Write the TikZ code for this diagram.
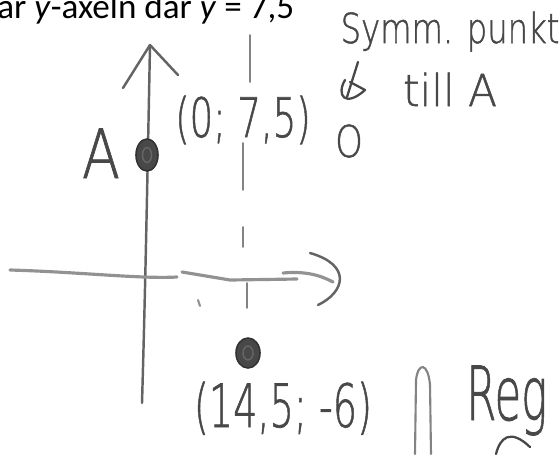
\documentclass[tikz,border=0pt]{standalone}
\usepackage{fontspec}
\usepackage{graphicx}
\setmainfont{Liberation Sans}
\newfontfamily\printfont{Carlito}
\newfontfamily\handfont{DejaVu Sans ExtraLight}[FakeBold=1.2]
\usetikzlibrary{positioning, arrows.meta, shapes.geometric}
\definecolor{pencil}{RGB}{100,100,100}
\definecolor{lead}{RGB}{72,72,72}
\newcommand{\hw}[2]{\scalebox{#1}[1]{#2}}

\begin{document}
\begin{tikzpicture}[
    x=0.02cm, y=-0.02cm,
    pen/.style={draw=pencil, line width=1.4pt, line cap=round, line join=round},
    faint/.style={pen, draw=pencil!70, line width=1.8pt},
    hand/.style={text=lead, inner sep=0pt, anchor=base, font=\handfont\fontsize{#1}{#1}\selectfont},
    blob/.style={ellipse, fill=lead, draw=lead!70!black, line width=0.9pt, inner sep=0pt},
    swirl/.style={ellipse, draw=gray!80!black, line width=0.8pt, inner sep=0pt}
]
\useasboundingbox (0,0) rectangle (560,454);

% heading, cut off at the top edge as in the scan
\node[anchor=base west, inner sep=0pt, font=\printfont\fontsize{20}{20}\selectfont] (heading) at (-3,18) {ar \textit{y}-axeln där \textit{y} = 7,5};

% axes
\draw[pen] (142,403) .. controls (145,300) and (147,200) .. (150,45);
\draw[pen] (123,88) -- (150,45) -- (178,75);
\draw[faint] (10,270) .. controls (80,272) and (140,279) .. (177,277);
\draw[faint] (182,272) -- (230,280) -- (297,279);
\draw[faint] (283,273) .. controls (305,271) and (320,275) .. (333,282);
\draw[pen] (310,253) .. controls (352,265) and (345,292) .. (318,305);
\draw[faint, line width=1.2pt] (198,300) -- (200,306);

% guide at x = 7,5
\draw[pen, draw=pencil!80, line width=1pt] (250,35) -- (250,82) (243,143) -- (243,190)
    (243,227) -- (243,247) (247,283) -- (247,308);

% points
\node[blob, minimum width=0.44cm, minimum height=0.64cm] (ptA) at (147,155) {};
\node[swirl, minimum width=0.18cm, minimum height=0.3cm] (ptAcore) at (ptA) {};
\node[blob, minimum width=0.48cm, minimum height=0.6cm] (ptP) at (248,353) {};
\node[swirl, minimum width=0.2cm, minimum height=0.28cm] (ptPcore) at (ptP) {};

% labels
\node[hand=38.6] (labA) at (101,178) {\hw{0.82}{A}};
\node[hand=31] (labAxy) at (243,137) {\hw{0.68}{(0; 7,5)}};
\node[hand=23.5] (symm) at (450,43) {\hw{0.78}{Symm. punkt}};
\node[hand=25] (tillA) at (450,106) {\hw{0.96}{till A}};
\node[hand=25] (ringO) at (349,157) {\hw{0.8}{O}};
\node[hand=34] (labP) at (283,427) {\hw{0.64}{(14,5; -6)}};
\node[hand=42.5, anchor=base west] (regel) at (466,420) {\hw{0.58}{Reg}};

% legend mark
\draw[pen, draw=lead, line width=1.3pt] (358,62) -- (347,97);
\draw[pen, draw=lead, line width=1.3pt] (345,80) .. controls (336,95) and (345,108) .. (365,90) -- (350,82);

% strokes at the lower right
\draw[pen, draw=pencil!80, line width=1.2pt] (415,454) -- (416,380)
    .. controls (418,362) and (428,362) .. (430,385) -- (431,454);
\draw[pen, draw=lead, line width=1.3pt] (496,454) .. controls (500,438) and (510,428) .. (530,447);

\end{tikzpicture}
\end{document}
